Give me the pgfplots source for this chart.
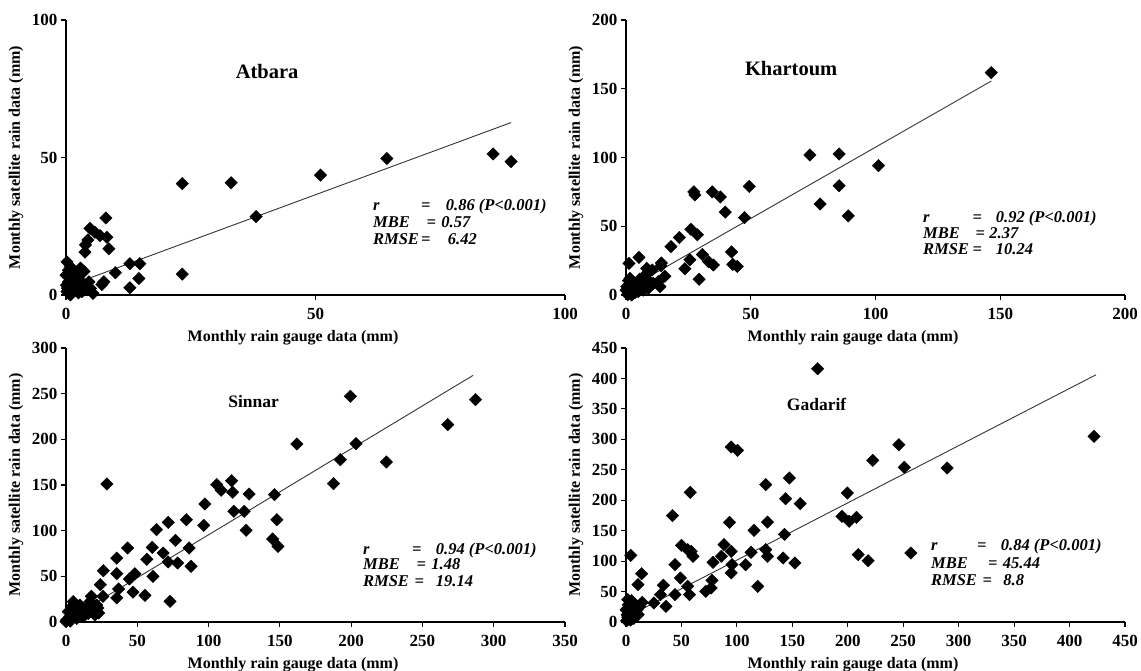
\documentclass[border=0pt]{standalone}
\usepackage{fontspec}
\setmainfont{Liberation Serif}
\usepackage{pgfplots}
\pgfplotsset{compat=1.18}

% common look of the four scatter panels
\pgfplotsset{
  panel/.style={
    scale only axis, width=499pt, height=275pt,
    axis lines*=left, axis line style={line width=1.5pt},
    tick align=outside, major tick length=5pt,
    tick style={line width=1.2pt, black},
    xmin=0, ymin=0, clip=false,
    /pgf/number format/assume math mode=true,
    ticklabel style={font=\fontsize{17}{17}\selectfont\bfseries},
    xticklabel style={yshift=-5pt},
    every axis x label/.style={at={(axis description cs:0.455,0)}, yshift=-43pt,
      anchor=center, font=\fontsize{16}{16}\selectfont\bfseries},
    every axis y label/.style={at={(axis description cs:0,0.5)}, xshift=-50pt,
      rotate=90, anchor=center, font=\fontsize{16}{16}\selectfont\bfseries},
    xlabel={Monthly rain gauge data (mm)},
    ylabel={Monthly satellite rain data (mm)},
  },
  pts/.style={only marks, mark=square*, mark size=4.4pt,
    mark options={rotate=45, fill=black, draw=black}},
  fit/.style={no marks, color=black!80, line width=0.9pt},
}
\tikzset{
  stat/.style={font=\fontsize{16.5}{16.5}\selectfont\bfseries\itshape, inner sep=0pt},
}

\begin{document}
\begin{tikzpicture}
\useasboundingbox (0,0) rectangle (1141pt,671pt);

% ---------------- Atbara
\begin{axis}[panel, at={(66pt,376pt)}, anchor=south west,
  xmax=100, ymax=100, xtick={0,50,100}, ytick={0,50,100}]
\addplot[pts] coordinates {
(85.6,51.3) (89.2,48.5) (64.3,49.6) (51.0,43.6) (33.1,40.8) (23.3,40.5)
(38.1,28.5) (23.3,7.6) (12.8,11.4) (14.8,11.4) (14.6,6.0) (12.8,2.6)
(9.9,8.1) (8.0,28.0) (8.2,21.0) (8.6,16.8) (7.6,4.8) (7.2,3.8) (5.4,0.6)
(4.8,24.2) (5.8,22.8) (6.8,21.6) (4.4,20.0) (3.9,18.2) (3.8,15.6)
(4.2,3.6) (4.6,4.8) (4.9,2.4) (0.2,12.0) (0.9,10.2) (2.9,9.8) (3.6,8.6)
(2.6,7.2) (1.5,6.0) (0.5,4.8) (1.9,2.4) (0.2,1.2) (0.9,0.0) (3.2,1.2)
(0.0,7.2) (0.1,3.6) (2.2,4.2) (1.2,8.5) (0.5,9.0) (2.5,0.8) (0.3,2.5)
(1.0,5.5) (3.0,5.0) (0.6,0.5) (1.5,1.5)
};
\addplot[fit] coordinates {(3,5.0) (89.2,62.7)};
\node[font=\fontsize{20.5}{20.5}\selectfont\bfseries] at (rel axis cs:0.403,0.812) {Atbara};
\node[stat, anchor=base west] at (rel axis cs:0.615,0.307) {r};
\node[stat, anchor=base] at (rel axis cs:0.721,0.307) {=};
\node[stat, anchor=base west] at (rel axis cs:0.761,0.307) {0.86 (P<0.001)};
\node[stat, anchor=base west] at (rel axis cs:0.615,0.244) {MBE};
\node[stat, anchor=base] at (rel axis cs:0.732,0.244) {=};
\node[stat, anchor=base west] at (rel axis cs:0.752,0.244) {0.57};
\node[stat, anchor=base west] at (rel axis cs:0.615,0.183) {RMSE};
\node[stat, anchor=base] at (rel axis cs:0.721,0.183) {=};
\node[stat, anchor=base west] at (rel axis cs:0.765,0.183) {6.42};
\end{axis}

% ---------------- Khartoum
\begin{axis}[panel, at={(626pt,376pt)}, anchor=south west,
  xmax=200, ymax=200, xtick={0,50,...,200}, ytick={0,50,...,200}]
\addplot[pts] coordinates {
(146.4,161.7) (73.7,101.8) (85.4,102.5) (101.2,94.1) (85.4,79.5)
(77.8,66.2) (89.1,57.5) (49.4,79.0) (27.2,75.0) (27.6,72.8) (34.6,75.0)
(37.8,71.3) (39.8,60.3) (47.5,56.3) (26.0,47.8) (28.6,43.8) (21.4,41.8)
(18.0,35.2) (14.2,23.3) (14.0,21.2) (23.6,19.1) (25.6,25.7) (30.6,29.5)
(33.1,24.2) (35.0,21.8) (29.3,11.4) (42.3,31.3) (42.8,22.3) (44.6,20.8)
(15.6,13.6) (5.2,27.4) (1.2,23.0) (8.3,19.4) (10.5,18.2) (7.6,14.5)
(13.6,6.1) (12.9,9.7) (1.6,12.1) (3.6,8.5) (8.9,10.9) (10.9,8.5)
(0.0,3.6) (0.9,1.2) (2.9,4.8) (4.9,2.4) (6.3,6.1) (2.3,0.0) (0.3,6.0)
(4.3,7.3) (7.6,9.7) (1.6,8.0) (6.9,3.6) (8.9,4.8) (0.7,0.2) (3.6,1.7)
(1.0,10.5) (5.5,11.5) (2.5,2.5)
};
\addplot[fit] coordinates {(8,12.1) (146.4,155.6)};
\node[font=\fontsize{20.5}{20.5}\selectfont\bfseries] at (rel axis cs:0.331,0.824) {Khartoum};
\node[stat, anchor=base west] at (rel axis cs:0.595,0.264) {r};
\node[stat, anchor=base] at (rel axis cs:0.704,0.264) {=};
\node[stat, anchor=base west] at (rel axis cs:0.741,0.264) {0.92 (P<0.001)};
\node[stat, anchor=base west] at (rel axis cs:0.595,0.204) {MBE};
\node[stat, anchor=base] at (rel axis cs:0.710,0.204) {=};
\node[stat, anchor=base west] at (rel axis cs:0.728,0.204) {2.37};
\node[stat, anchor=base west] at (rel axis cs:0.595,0.147) {RMSE};
\node[stat, anchor=base] at (rel axis cs:0.704,0.147) {=};
\node[stat, anchor=base west] at (rel axis cs:0.741,0.147) {10.24};
\end{axis}

% ---------------- Sinnar
\begin{axis}[panel, at={(66pt,49pt)}, anchor=south west, height=274pt,
  xmax=350, ymax=300, xtick={0,50,...,350}, ytick={0,50,...,300}]
\addplot[pts] coordinates {
(287.2,243.4) (199.5,247.1) (267.7,216.1) (203.4,195.3) (161.9,194.9)
(192.4,177.7) (224.7,175.2) (187.6,151.5) (28.7,151.1) (105.7,150.4)
(116.2,154.7) (108.8,144.2) (116.9,142.0) (128.4,140.1) (146.2,139.4)
(117.7,121.2) (125.0,121.2) (97.4,129.2) (96.6,105.8) (126.3,100.4)
(147.9,112.0) (144.9,90.9) (148.7,82.8) (84.4,112.0) (71.7,109.1)
(76.8,89.4) (86.4,81.0) (87.7,61.0) (78.3,64.6) (71.7,65.7) (68.1,75.5)
(60.5,81.8) (63.5,101.1) (56.7,68.6) (61.0,50.0) (55.4,29.2) (73.0,22.6)
(47.0,32.8) (43.2,81.0) (48.3,52.9) (44.5,47.1) (35.6,70.0) (35.6,52.9)
(36.9,36.1) (35.6,26.3) (26.2,56.2) (24.1,40.9) (25.9,28.1) (17.8,28.1)
(22.4,15.3) (17.8,20.8) (22.9,9.9) (0.5,2.2) (2.8,5.8) (1.6,11.3)
(6.3,15.0) (5.1,22.3) (9.8,18.6) (13.3,13.1) (8.6,9.5) (12.1,5.8)
(15.6,9.5) (17.9,16.8) (16.8,22.3) (21.5,11.3) (21.5,18.6) (0.0,0.4)
(7.5,4.0) (20.3,7.7) (4.0,16.8) (3.0,1.0) (10.5,12.0)
};
\addplot[fit] coordinates {(5,6.1) (285.5,270)};
\node[font=\fontsize{17.5}{17.5}\selectfont\bfseries] at (rel axis cs:0.376,0.805) {Sinnar};
\node[stat, anchor=base west] at (rel axis cs:0.595,0.246) {r};
\node[stat, anchor=base] at (rel axis cs:0.703,0.246) {=};
\node[stat, anchor=base west] at (rel axis cs:0.741,0.246) {0.94 (P<0.001)};
\node[stat, anchor=base west] at (rel axis cs:0.595,0.192) {MBE};
\node[stat, anchor=base] at (rel axis cs:0.712,0.192) {=};
\node[stat, anchor=base west] at (rel axis cs:0.732,0.192) {1.48};
\node[stat, anchor=base west] at (rel axis cs:0.595,0.131) {RMSE};
\node[stat, anchor=base] at (rel axis cs:0.708,0.131) {=};
\node[stat, anchor=base west] at (rel axis cs:0.741,0.131) {19.14};
\end{axis}

% ---------------- Gadarif
\begin{axis}[panel, at={(626pt,49pt)}, anchor=south west, height=274pt,
  xmax=450, ymax=450, xtick={0,50,...,450}, ytick={0,50,...,450}]
\addplot[pts] coordinates {
(172.8,416) (422.1,304.9) (246.1,291.2) (94.9,287.4) (100.5,281.9)
(222.5,265.5) (289.6,252.9) (251.0,254.0) (147.3,236.5) (126.0,225.5)
(57.9,212.9) (199.6,211.8) (143.9,202.5) (157.1,194.3) (41.9,174.6)
(93.3,163.7) (127.6,164.2) (194.7,173.5) (201.2,165.3) (207.8,171.9)
(115.5,150.5) (142.9,144.0) (50.1,125.9) (55.6,118.8) (60.5,107.8)
(58.9,116.0) (88.4,127.0) (86.0,107.8) (94.9,116.0) (95.6,94.1)
(94.9,80.5) (107.9,94.1) (112.8,114.4) (126.0,118.8) (127.6,107.8)
(141.7,105.1) (152.2,96.9) (118.8,58.6) (209.4,110.6) (218.3,100.7)
(256.9,113.3) (78.5,98.0) (77.5,68.4) (76.8,55.8) (71.9,50.4)
(44.2,94.1) (49.1,72.2) (55.6,58.6) (57.3,44.9) (44.2,44.9) (33.7,60.2)
(31.1,44.9) (36.0,25.7) (25.2,31.2) (4.3,109.5) (14.1,79.4) (10.8,61.3)
(14.7,32.3) (8.2,28.5) (1.6,36.7) (0.5,2) (2,5) (1,12) (3,18) (5,10)
(6,22) (8,15) (10,20) (12,25) (2,28) (4,3) (7,6) (9,10) (0,20) (3,30)
(11,12) (1.5,8) (5,35)
};
\addplot[fit] coordinates {(10,17.1) (423.8,406)};
\node[font=\fontsize{17.5}{17.5}\selectfont\bfseries] at (rel axis cs:0.382,0.793) {Gadarif};
\node[stat, anchor=base west] at (rel axis cs:0.611,0.262) {r};
\node[stat, anchor=base] at (rel axis cs:0.713,0.262) {=};
\node[stat, anchor=base west] at (rel axis cs:0.751,0.262) {0.84 (P<0.001)};
\node[stat, anchor=base west] at (rel axis cs:0.611,0.195) {MBE};
\node[stat, anchor=base] at (rel axis cs:0.735,0.195) {=};
\node[stat, anchor=base west] at (rel axis cs:0.755,0.195) {45.44};
\node[stat, anchor=base west] at (rel axis cs:0.611,0.134) {RMSE};
\node[stat, anchor=base] at (rel axis cs:0.724,0.134) {=};
\node[stat, anchor=base west] at (rel axis cs:0.756,0.134) {8.8};
\end{axis}
\end{tikzpicture}
\end{document}
